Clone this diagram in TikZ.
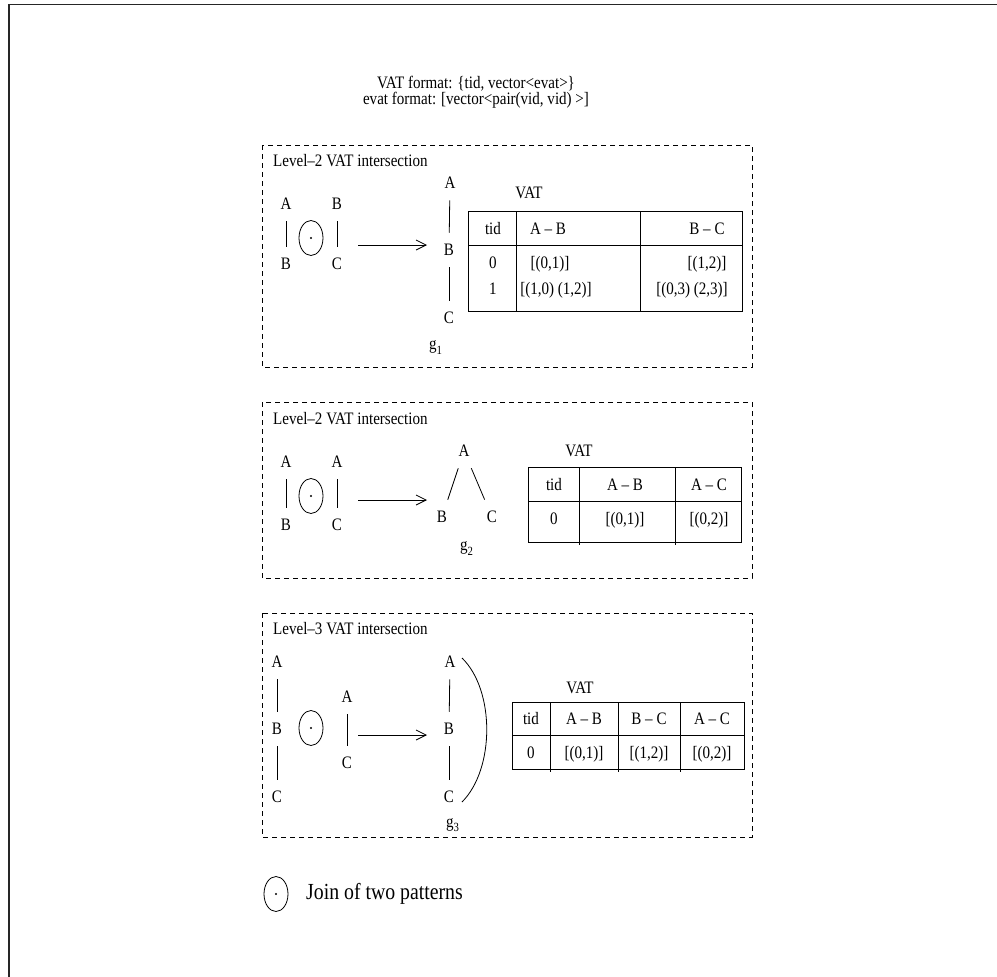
\documentclass[tikz,border=0pt]{standalone}
\usepackage{fontspec}
\setmainfont{Liberation Serif}[FakeStretch=0.86]
\usetikzlibrary{arrows.meta,shapes.geometric,calc}
\begin{document}
\begin{tikzpicture}[x=1pt,y=-1pt,
  every node/.style={font=\fontsize{17.5}{20}\selectfont},
  txt/.style={inner sep=0pt, anchor=base},
  vtx/.style={inner sep=0pt, outer sep=11.5pt},
  edge/.style={line width=0.8pt},
  joinop/.style={ellipse, draw, line width=0.8pt, minimum width=24pt, minimum height=35pt, inner sep=0pt},
  arrowln/.style={line width=0.8pt, -{Straight Barb[length=10pt,width=10pt]}},
  panel/.style={draw, line width=0.8pt, dash pattern=on 5pt off 4pt},
  tbl/.style={draw, line width=1pt},
  frameline/.style={line width=1.6pt, black!85}
]
\useasboundingbox (0,0) rectangle (997,977);
\draw[frameline] (8.7,977) -- (8.7,4.3) -- (997,4.3);

% title
\node[txt] (t1) at (476,88) {VAT format: \{tid, vector<evat>\}};
\node[txt] (t2) at (476,104) {evat format: [vector<pair(vid, vid) >]};

% ---------- panel 1 ----------
\draw[panel] (262,145) rectangle (752,367);
\node[txt, anchor=base west] (lv1) at (273,166) {Level--2 VAT intersection};
\node[vtx] (p1a) at (286,204) {A};
\node[vtx] (p1b) at (286,264) {B};
\node[vtx] (p1c) at (337,204) {B};
\node[vtx] (p1d) at (337,264) {C};
\draw[edge] (p1a) -- (p1b);
\draw[edge] (p1c) -- (p1d);
\node[joinop] (j1) at (311,238) {};
\fill (j1.center) circle (1.1pt);
\coordinate (a1s) at (358,245);
\coordinate (a1e) at (427,245);
\draw[arrowln] (a1s) -- (a1e);
\node[vtx] (g1a) at (450,183) {A};
\node[vtx] (g1b) at (449,250) {B};
\node[vtx] (g1c) at (449,318) {C};
\draw[edge] (g1a) -- (g1b);
\draw[edge] (g1b) -- (g1c);
\node[txt, anchor=base west] (g1) at (429,349) {g\raisebox{-5pt}{\fontsize{12.5}{14}\selectfont 1}};
\node[txt] (vat1) at (529,198) {VAT};
\draw[tbl] (468,211) rectangle (742,311);
\draw[tbl] (468,245) -- (742,245);
\draw[tbl] (516,211) -- (516,311);
\draw[tbl] (640,211) -- (640,311);
\node[txt] (c11) at (493,234) {tid};
\node[txt] (c12) at (548,234) {A -- B};
\node[txt] (c13) at (707,234) {B -- C};
\node[txt] (c21) at (493,268) {0};
\node[txt] (c22) at (550,268) {[(0,1)]};
\node[txt] (c23) at (707,268) {[(1,2)]};
\node[txt] (c31) at (493,294) {1};
\node[txt] (c32) at (556,294) {[(1,0) (1,2)]};
\node[txt] (c33) at (692,294) {[(0,3) (2,3)]};

% ---------- panel 2 ----------
\draw[panel] (262,402) rectangle (752,578);
\node[txt, anchor=base west] (lv2) at (273,424) {Level--2 VAT intersection};
\node[vtx] (p2a) at (286,462) {A};
\node[vtx] (p2b) at (286,525) {B};
\node[vtx] (p2c) at (337,462) {A};
\node[vtx] (p2d) at (337,525) {C};
\draw[edge] (p2a) -- (p2b);
\draw[edge] (p2c) -- (p2d);
\node[joinop] (j2) at (311,496) {};
\fill (j2.center) circle (1.1pt);
\coordinate (a2s) at (358,500);
\coordinate (a2e) at (427,500);
\draw[arrowln] (a2s) -- (a2e);
\node[vtx] (g2a) at (464,451) {A};
\node[vtx] (g2b) at (442,517) {B};
\node[vtx] (g2c) at (492,517) {C};
\draw[edge] (g2a) -- (g2b);
\draw[edge] (g2a) -- (g2c);
\node[txt, anchor=base west] (g2) at (460,550) {g\raisebox{-5pt}{\fontsize{12.5}{14}\selectfont 2}};
\node[txt] (vat2) at (579,456) {VAT};
\draw[tbl] (528,467) rectangle (741,542);
\draw[tbl] (528,501) -- (741,501);
\draw[tbl] (579,467) -- (579,545);
\draw[tbl] (675,467) -- (675,545);
\node[txt] (d11) at (554,490) {tid};
\node[txt] (d12) at (625,490) {A -- B};
\node[txt] (d13) at (709,490) {A -- C};
\node[txt] (d21) at (554,524) {0};
\node[txt] (d22) at (625,524) {[(0,1)]};
\node[txt] (d23) at (709,524) {[(0,2)]};

% ---------- panel 3 ----------
\draw[panel] (262,613) rectangle (752,837);
\node[txt, anchor=base west] (lv3) at (273,634) {Level--3 VAT intersection};
\node[vtx] (p3a) at (277,662) {A};
\node[vtx] (p3b) at (277,729) {B};
\node[vtx] (p3c) at (277,797) {C};
\draw[edge] (p3a) -- (p3b);
\draw[edge] (p3b) -- (p3c);
\node[joinop] (j3) at (311,728) {};
\fill (j3.center) circle (1.1pt);
\node[vtx] (p3d) at (347,697) {A};
\node[vtx] (p3e) at (347,763) {C};
\draw[edge] (p3d) -- (p3e);
\coordinate (a3s) at (358,735);
\coordinate (a3e) at (427,735);
\draw[arrowln] (a3s) -- (a3e);
\node[vtx] (g3a) at (450,662) {A};
\node[vtx] (g3b) at (449,729) {B};
\node[vtx] (g3c) at (449,797) {C};
\draw[edge] (g3a) -- (g3b);
\draw[edge] (g3b) -- (g3c);
\draw[edge] ($(g3a)+(12,-4)$) .. controls ($(g3a)+(45,28)$) and ($(g3c)+(46,-28)$) .. ($(g3c)+(13,5)$);
\node[txt, anchor=base west] (g3) at (446,827) {g\raisebox{-4.5pt}{\fontsize{12.5}{14}\selectfont 3}};
\node[txt] (vat3) at (580,693) {VAT};
\draw[tbl] (512,702) rectangle (744,769);
\draw[tbl] (512,735) -- (744,735);
\draw[tbl] (550,702) -- (550,772);
\draw[tbl] (618,702) -- (618,772);
\draw[tbl] (680,702) -- (680,772);
\node[txt] (e11) at (531,724) {tid};
\node[txt] (e12) at (584,724) {A -- B};
\node[txt] (e13) at (649,724) {B -- C};
\node[txt] (e14) at (712,724) {A -- C};
\node[txt] (e21) at (531,758) {0};
\node[txt] (e22) at (584,758) {[(0,1)]};
\node[txt] (e23) at (649,758) {[(1,2)]};
\node[txt] (e24) at (712,758) {[(0,2)]};

% ---------- legend ----------
\node[joinop] (j4) at (276,894) {};
\fill (j4.center) circle (1.1pt);
\node[inner sep=0pt, anchor=west, font=\fontsize{23}{26}\selectfont] (leg) at (306,894) {Join of two patterns};
\end{tikzpicture}
\end{document}
